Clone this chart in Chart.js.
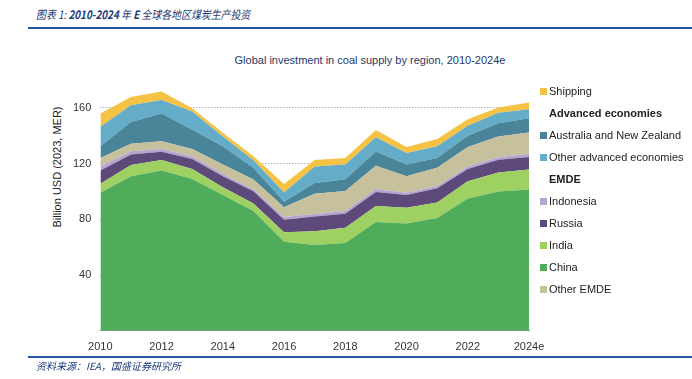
<!DOCTYPE html>
<html>
<head>
<meta charset="utf-8">
<script src="https://cdn.jsdelivr.net/npm/chart.js@4/dist/chart.umd.min.js"></script>
<style>
  body { margin: 0; background: #fff; }
  #wrap { position: relative; width: 692px; height: 379px; overflow: hidden; font-family: "Liberation Sans", Arial, sans-serif; }
  #wrap canvas { position: absolute; left: 0; top: 0; }
  .cn { position: absolute; left: 36px; font-family: "Noto Sans CJK SC", sans-serif; font-style: italic; color: #1b3a78; white-space: nowrap; transform-origin: left center; }
  .rule { position: absolute; left: 28px; right: 0; height: 2px; background: #2456a4; }
  #title { position: absolute; left: 0; width: 740px; top: 54px; text-align: center; font-size: 11px; color: #1f3864; }
  #ytitle { position: absolute; left: 57px; top: 167px; font-size: 11px; color: #222; white-space: nowrap; transform: translate(-50%, -50%) rotate(-90deg); }
  #legend { position: absolute; left: 540px; top: 84px; font-size: 11px; color: #222; }
  #legend div { height: 22px; line-height: 15px; white-space: nowrap; }
  #legend span { display: inline-block; width: 7px; height: 7px; margin-right: 2px; vertical-align: 0px; }
  #legend b { margin-left: 9px; }
</style>
</head>
<body>
<div id="wrap">
  <div class="cn" style="top:6px;font-size:11.5px;transform:scaleX(0.86)">图表 1: <b style="font-weight:600">2010-2024</b> 年 <b style="font-weight:600">E</b> 全球各地区煤炭生产投资</div>
  <div class="rule" style="top:27px"></div>
  <div id="title">Global investment in coal supply by region, 2010-2024e</div>
  <div id="ytitle">Billion USD (2023, MER)</div>
  <canvas id="coalChart" width="692" height="379"></canvas>
  <div id="legend"></div>
  <div class="rule" style="top:356px"></div>
  <div class="cn" style="top:358px;font-size:10px">资料来源：IEA，国盛证券研究所</div>
</div>
<script>
// Years on the x axis
const years = ["2010", "2011", "2012", "2013", "2014", "2015", "2016", "2017",
  "2018", "2019", "2020", "2021", "2022", "2023", "2024e"];

// Billion USD (2023, MER), bottom of the stack first
const china = [99, 111, 115, 109, 97.5, 86, 64, 61.5, 63, 78, 77, 81, 95, 100, 101.4];
const india = [6.5, 8, 7.5, 7.2, 5.5, 5.4, 6.7, 10, 11, 11.5, 11.3, 11, 12.4, 13.7, 14.3];
const russia = [9.5, 7.5, 6, 7.1, 8, 8.8, 9, 10.5, 10, 10.2, 9.1, 10.3, 8.8, 9, 9];
const indonesia = [3, 2.3, 2, 1.9, 1.8, 1.2, 1.9, 1.9, 2, 2, 1.6, 1.7, 1.8, 1.9, 2.4];
const otherEmde = [6, 5.5, 5.5, 5.2, 6.5, 7.2, 7, 14.5, 14.3, 16.8, 12, 13, 13.9, 14.8, 15.3];
const ausNz = [8.5, 15.5, 20, 13.9, 13.1, 8.3, 4, 7.6, 8.4, 10.2, 8.3, 7, 8.1, 9.5, 10.2];
const otherAdvanced = [14, 12, 9.7, 13.1, 7.1, 5.5, 6.6, 12, 10.7, 10.2, 8.3, 8.4, 7.1, 7.6, 6.4];
const shipping = [9.5, 6, 6, 2.3, 2.6, 2.8, 6.2, 4.5, 4.7, 5.3, 4.3, 5.2, 4.8, 3.8, 4.8];

// Y axis labels that are shown
const yTicks = [40, 80, 120, 160];

Chart.defaults.font.family = "'Liberation Sans', Arial, sans-serif";
Chart.defaults.font.size = 11;
Chart.defaults.color = "#333";

function area(label, data, color, fill) {
  return { label, data, backgroundColor: color, borderWidth: 0, pointRadius: 0, fill, tension: 0 };
}

const datasets = [
  area("China", china, "#4fac5b", "origin"),
  area("India", india, "#9fd162", "-1"),
  area("Russia", russia, "#5d4a7b", "-1"),
  area("Indonesia", indonesia, "#b7a5d0", "-1"),
  area("Other EMDE", otherEmde, "#c6c09d", "-1"),
  area("Australia and New Zealand", ausNz, "#4a8499", "-1"),
  area("Other advanced economies", otherAdvanced, "#64acc7", "-1"),
  area("Shipping", shipping, "#f5c244", "-1"),
];

new Chart(document.getElementById("coalChart"), {
  type: "line",
  data: { labels: years, datasets },
  options: {
    responsive: false,
    animation: false,
    layout: { padding: { left: 64, right: 163, top: 80, bottom: 23 } },
    plugins: { legend: { display: false }, tooltip: { enabled: false } },
    scales: {
      x: {
        grid: { display: false },
        border: { color: "#8a9a8a" },
        ticks: {
          autoSkip: false,
          maxRotation: 0,
          padding: 2,
          callback: (v, i) => (i % 2 === 0 ? years[i] : ""),
        },
      },
      y: {
        stacked: true,
        min: 0,
        max: 180,
        border: { display: false, dash: [1.5, 1.5] },
        grid: {
          drawTicks: false,
          color: (c) => (yTicks.includes(c.tick.value) ? "#b5b5b5" : "rgba(0,0,0,0)"),
        },
        ticks: {
          stepSize: 40,
          padding: 9,
          callback: (v) => (yTicks.includes(v) ? v : ""),
        },
      },
    },
  },
});

// Legend on the right, with the two group headers
const legendRows = [
  ["Shipping", "#f5c244"],
  ["Advanced economies", null],
  ["Australia and New Zealand", "#4a8499"],
  ["Other advanced economies", "#64acc7"],
  ["EMDE", null],
  ["Indonesia", "#b7a5d0"],
  ["Russia", "#5d4a7b"],
  ["India", "#9fd162"],
  ["China", "#4fac5b"],
  ["Other EMDE", "#c6c09d"],
];
const legend = document.getElementById("legend");
legendRows.forEach(([name, color]) => {
  const row = document.createElement("div");
  if (color) {
    row.innerHTML = `<span style="background:${color}"></span>${name}`;
  } else {
    row.innerHTML = `<b>${name}</b>`;
  }
  legend.appendChild(row);
});
</script>
</body>
</html>
